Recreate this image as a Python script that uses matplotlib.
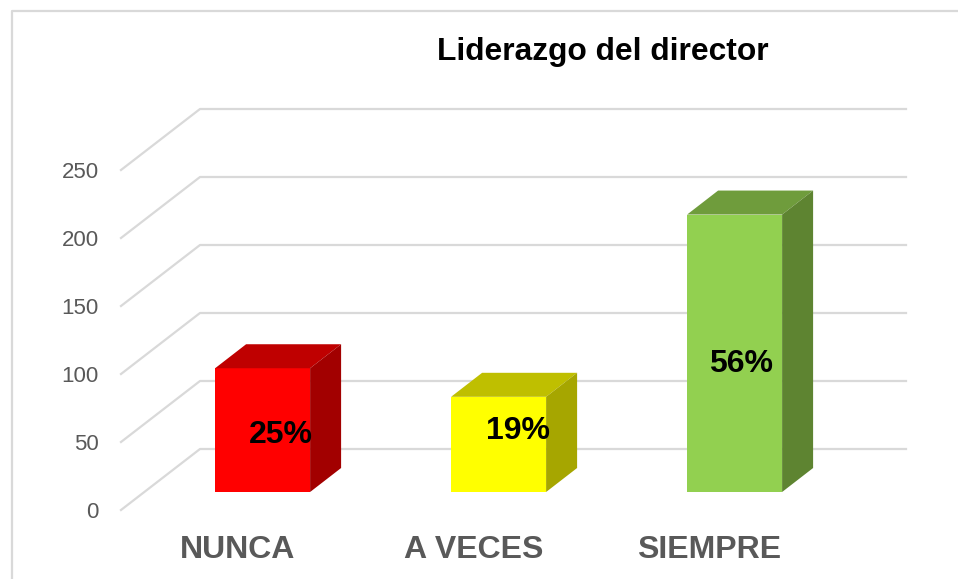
import numpy as np
from matplotlib import pyplot as plt
from matplotlib.patches import Polygon

categorias = ['NUNCA', 'A VECES', 'SIEMPRE']
valores = [91, 70, 204]
porcentajes = ['25%', '19%', '56%']
ticks_y = [0, 50, 100, 150, 200, 250]

plt.rcParams['font.family'] = ['Liberation Sans', 'DejaVu Sans']

W = 958.; H = 579.
fig = plt.figure(figsize=(W/100, H/100), dpi=100)
# eje: x de 121 a 829 px, y de 510 a 170 px
ax = fig.add_axes([121/W, 1-510/H, 708/W, 340/H])
ax.set_xlim(-0.6, 2.4)
ax.set_ylim(0, 250)
ax.patch.set_visible(False)
for s in ax.spines.values():
    s.set_visible(False)

px = 3./708       #un pixel en unidades de x
py = 250./340     #un pixel en unidades de y
gris = '#d9d9d9'

#marco exterior de la imagen
fig.add_artist(plt.Line2D([12/W, 12/W, 1], [0, 1-11/H, 1-11/H], color=gris, lw=1.6))

#pared del fondo y piso
fx = 79*px; fy = 61*py
x0, x1 = ax.get_xlim()
for t in ticks_y:
    ax.plot([x0, x0+fx, x1+fx-2*px], [t, t+fy, t+fy], color=gris, lw=1.6, clip_on=False, zorder=1)

#barras 3D
frente = ['#ff0000', '#ffff00', '#92d050']
arriba = ['#bf0000', '#bfbf00', '#6f9c3c']
lado = ['#a20000', '#a6a600', '#5e8431']
ancho = 95*px; bx = 31*px; by = 24*py
base = 18*py
for i, v in enumerate(valores):
    l = i-ancho/2; r = i+ancho/2
    b = base; t = base+v
    ax.add_patch(Polygon([[l, b], [r, b], [r, t], [l, t]], fc=frente[i], ec='none', zorder=3))
    ax.add_patch(Polygon([[l, t], [r, t], [r+bx, t+by], [l+bx, t+by]], fc=arriba[i], ec='none', zorder=3, clip_on=False))
    ax.add_patch(Polygon([[r, b], [r+bx, b+by], [r+bx, t+by], [r, t]], fc=lado[i], ec='none', zorder=3, clip_on=False))

#etiquetas de las barras
pos_et = [(0.076, 55), (1.083, 58), (2.028, 107)]
for (xe, ye), p in zip(pos_et, porcentajes):
    ax.text(xe, ye, p, ha='center', va='center', fontsize=23, fontweight='bold', color='black', zorder=5)

#ejes
ax.set_yticks(ticks_y)
ax.tick_params(axis='y', length=0, pad=16, labelsize=16, labelcolor='#595959')
ax.set_xticks([i-0.107 for i in range(len(categorias))])
ax.set_xticklabels(categorias)
ax.tick_params(axis='x', length=0, pad=18, labelsize=23, labelcolor='#595959')
for e in ax.get_xticklabels():
    e.set_fontweight('bold')

fig.text(603/W, 1-52/H, 'Liderazgo del director', ha='center', va='center', fontsize=22.9, fontweight='bold', color='black')

fig.savefig('out.png', dpi=100)
